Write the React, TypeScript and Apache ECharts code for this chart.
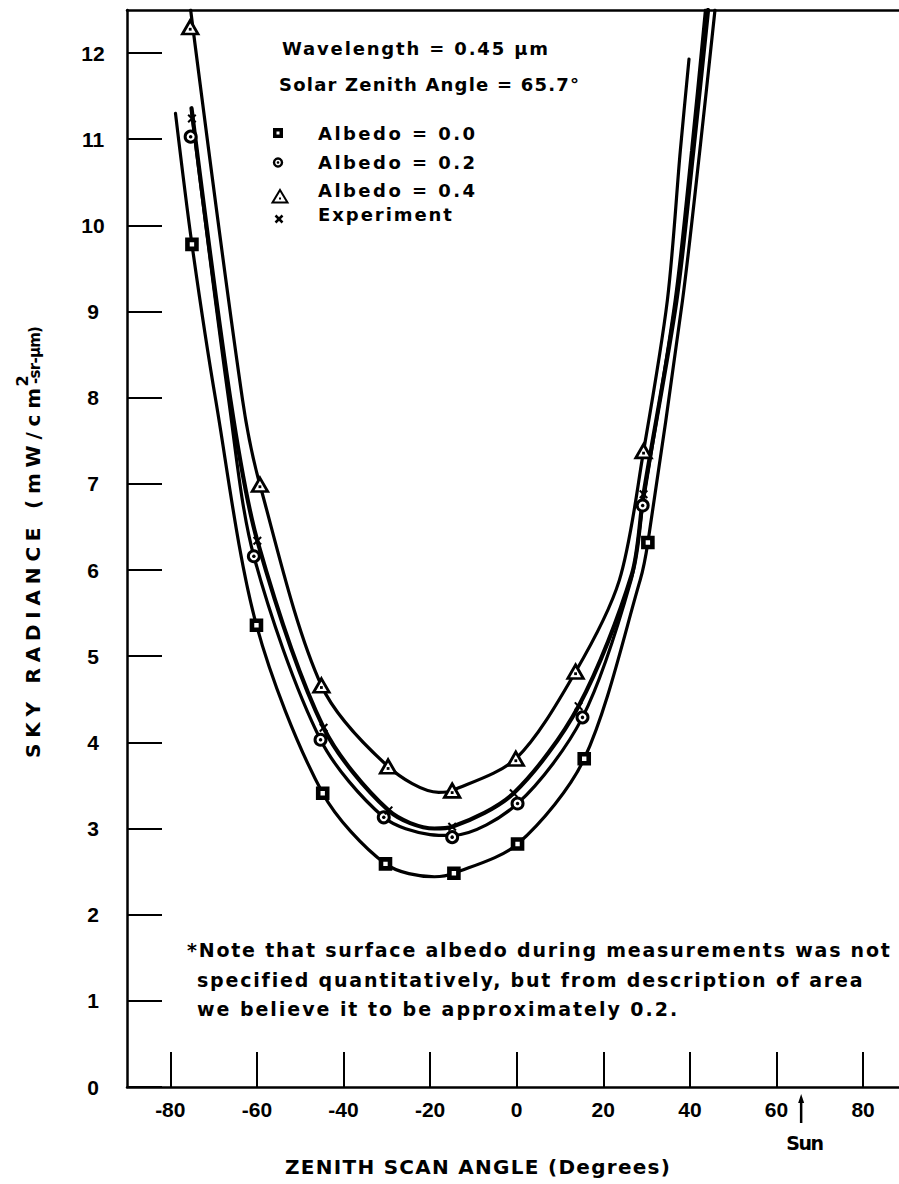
import React, { useEffect, useRef } from "react";
import * as echarts from "echarts";

// ---------- axes ----------
const X_MIN = -90;
const X_MAX = 88.3;
const Y_MIN = 0;
const Y_MAX = 12.5;
const X_TICKS = [-80, -60, -40, -20, 0, 20, 40, 60, 80];
const Y_TICKS = [0, 1, 2, 3, 4, 5, 6, 7, 8, 9, 10, 11, 12];
const SUN_ANGLE = 65.7;

// ---------- measured points (markers) ----------
const albedo00Points = [
  [-75.0, 9.78], [-60.1, 5.36], [-44.8, 3.41], [-30.3, 2.59],
  [-14.5, 2.48], [0.2, 2.82], [15.6, 3.81], [30.3, 6.32],
];
const albedo02Points = [
  [-75.3, 11.03], [-60.7, 6.16], [-45.3, 4.03], [-30.7, 3.13],
  [-14.9, 2.9], [0.2, 3.29], [15.2, 4.29], [29.1, 6.75],
];
const albedo04Points = [
  [-75.4, 12.3], [-59.3, 6.99], [-45.1, 4.66], [-29.7, 3.72],
  [-14.9, 3.44], [-0.2, 3.81], [13.6, 4.82], [29.3, 7.38],
];
const experimentPoints = [
  [-75.0, 11.24], [-59.9, 6.34], [-44.6, 4.17], [-29.6, 3.21],
  [-14.9, 3.02], [-0.7, 3.41], [14.3, 4.42], [29.3, 6.88],
];

// ---------- curves ----------
const albedo00Curve = [
  [-78.8, 11.3], [-75.0, 9.78], [-69.5, 7.97], [-60.1, 5.36], [-44.8, 3.41],
  [-30.3, 2.59], [-19.0, 2.44], [-14.5, 2.48], [0.2, 2.82], [15.6, 3.81],
  [28.5, 5.88], [30.3, 6.32], [38.3, 9.13], [42.3, 10.87], [45.8, 12.5],
];
const albedo02Curve = [
  [-75.1, 11.33], [-66.5, 7.97], [-60.7, 6.16], [-45.3, 4.03], [-30.7, 3.13],
  [-20.0, 2.93], [-14.9, 2.92], [0.2, 3.29], [15.2, 4.29], [26.4, 5.88],
  [29.1, 6.75], [36.6, 9.13], [40.4, 10.87], [43.6, 12.5],
];
const albedo04Curve = [
  [-75.3, 12.5], [-63.3, 7.97], [-59.3, 6.99], [-45.1, 4.66], [-29.7, 3.72],
  [-18.0, 3.42], [-14.9, 3.44], [-0.2, 3.81], [13.6, 4.82], [23.7, 5.88],
  [29.3, 7.38], [34.8, 9.13], [37.8, 10.87], [39.8, 11.93],
];
const experimentCurve = [
  [-75.1, 11.36], [-66.1, 7.97], [-59.9, 6.34], [-44.6, 4.17], [-29.6, 3.21],
  [-19.0, 3.0], [-14.9, 3.02], [-0.7, 3.41], [14.3, 4.42], [26.6, 5.95],
  [29.3, 6.88], [36.9, 9.13], [40.8, 10.87], [44.2, 12.5],
];

// ---------- texts ----------
const TITLE_LINES = ["Wavelength = 0.45 μm", "Solar Zenith Angle = 65.7°"];
const LEGEND_LABELS = ["Albedo = 0.0", "Albedo = 0.2", "Albedo = 0.4", "Experiment"];
const NOTE_LINES = [
  "*Note that surface albedo during measurements was not",
  "specified quantitatively, but from description of area",
  "we believe it to be approximately 0.2.",
];
const X_TITLE = "ZENITH SCAN ANGLE (Degrees)";
const Y_TITLE_MAIN = "SKY RADIANCE (mW/cm";
const Y_TITLE_SUP = "2";
const Y_TITLE_END = "-sr-μm)";
const SUN_LABEL = "Sun";

const FONT = '"DejaVu Sans", "Noto Sans", sans-serif';
const NUM_FONT = '"Liberation Sans", Arial, sans-serif';

// target rendered widths (px) for letter-spaced texts
const TEXT_FIT: Record<string, number> = {
  [TITLE_LINES[0]]: 266,
  [TITLE_LINES[1]]: 300,
  [LEGEND_LABELS[0]]: 157,
  [LEGEND_LABELS[1]]: 157,
  [LEGEND_LABELS[2]]: 157,
  [LEGEND_LABELS[3]]: 134,
  [NOTE_LINES[0]]: 703,
  [NOTE_LINES[1]]: 665,
  [NOTE_LINES[2]]: 480,
  [X_TITLE]: 385,
  [Y_TITLE_MAIN]: 370,
  [Y_TITLE_END]: 58,
  [SUN_LABEL]: 38,
};

function fitText(root: HTMLElement) {
  root.querySelectorAll("text").forEach((node) => {
    const t = node as SVGTextElement;
    const s = t.textContent || "";
    const target = TEXT_FIT[s];
    if (target === undefined || t.getAttribute("data-fit")) return;
    const n = Array.from(s).length;
    if (n < 2) return;
    t.setAttribute("letter-spacing", "0");
    const w = t.getComputedTextLength();
    const ls = (target - w) / (n - 1);
    t.setAttribute("letter-spacing", ls.toFixed(2));
    t.setAttribute("data-fit", "1");
  });
}

const X_PATH =
  "path://M0,1.6L1.6,0L5,3.4L8.4,0L10,1.6L6.6,5L10,8.4L8.4,10L5,6.6L1.6,10L0,8.4L3.4,5Z";

function txt(text: string, x: number, y: number, size: number) {
  return {
    type: "text",
    x,
    y,
    z: 20,
    style: {
      text,
      fontSize: size,
      fontFamily: FONT,
      fontWeight: "bold",
      fill: "#000",
      textAlign: "left",
      textVerticalAlign: "middle",
    },
  };
}

function lineSeries(name: string, data: number[][], width: number) {
  return {
    name,
    type: "line",
    data,
    smooth: 0.3,
    symbol: "none",
    showSymbol: false,
    silent: true,
    z: 2,
    lineStyle: { color: "#000", width, cap: "round", opacity: 1 },
  };
}

function buildOption() {
  const axisLine = { show: true, onZero: false, lineStyle: { color: "#000", width: 2.5 } };
  return {
    animation: false,
    backgroundColor: "#fff",
    grid: { left: 127, right: 0, top: 10, bottom: 97 },
    xAxis: [
      {
        type: "value",
        min: X_MIN,
        max: X_MAX,
        axisLine,
        splitLine: { show: false },
        axisTick: {
          show: true,
          inside: true,
          length: 35,
          customValues: X_TICKS,
          lineStyle: { color: "#000", width: 2 },
        },
        axisLabel: {
          customValues: X_TICKS,
          margin: 12,
          fontSize: 21,
          fontFamily: NUM_FONT,
          fontWeight: "bold",
          color: "#000",
        },
      },
      {
        type: "value",
        position: "top",
        min: X_MIN,
        max: X_MAX,
        axisLine,
        splitLine: { show: false },
        axisTick: { show: false },
        axisLabel: { show: false },
      },
    ],
    yAxis: {
      type: "value",
      min: Y_MIN,
      max: Y_MAX,
      axisLine,
      splitLine: { show: false },
      axisTick: {
        show: true,
        inside: true,
        length: 35,
        customValues: Y_TICKS,
        lineStyle: { color: "#000", width: 2 },
      },
      axisLabel: {
        customValues: Y_TICKS,
        margin: 34,
        align: "center",
        fontSize: 21,
        fontFamily: NUM_FONT,
        fontWeight: "bold",
        color: "#000",
      },
    },
    series: [
      lineSeries("Albedo = 0.0 curve", albedo00Curve, 3.2),
      lineSeries("Albedo = 0.2 curve", albedo02Curve, 3.2),
      lineSeries("Albedo = 0.4 curve", albedo04Curve, 3.2),
      lineSeries("Experiment curve", experimentCurve, 4.2),
      {
        name: "Albedo = 0.0",
        type: "scatter",
        data: albedo00Points,
        symbol: "rect",
        symbolSize: 9,
        z: 5,
        silent: true,
        itemStyle: { color: "#fff", borderColor: "#000", borderWidth: 4.6, opacity: 1 },
      },
      {
        name: "Albedo = 0.2",
        type: "scatter",
        data: albedo02Points,
        symbol: "circle",
        symbolSize: 11,
        z: 5,
        silent: true,
        itemStyle: { color: "#fff", borderColor: "#000", borderWidth: 3, opacity: 1 },
      },
      {
        name: "Albedo = 0.2 dot",
        type: "scatter",
        data: albedo02Points,
        symbol: "circle",
        symbolSize: 3.5,
        z: 6,
        silent: true,
        itemStyle: { color: "#000", opacity: 1 },
      },
      {
        name: "Albedo = 0.4",
        type: "scatter",
        data: albedo04Points,
        symbol: "triangle",
        symbolSize: [15.5, 13.5],
        z: 5,
        silent: true,
        itemStyle: { color: "#fff", borderColor: "#000", borderWidth: 2.8, opacity: 1 },
      },
      {
        name: "Albedo = 0.4 dot",
        type: "scatter",
        data: albedo04Points,
        symbol: "rect",
        symbolSize: 2.8,
        symbolOffset: [0, 2],
        z: 6,
        silent: true,
        itemStyle: { color: "#000", opacity: 1 },
      },
      {
        name: "Experiment",
        type: "scatter",
        data: experimentPoints,
        symbol: X_PATH,
        symbolSize: 9,
        z: 7,
        silent: true,
        itemStyle: { color: "#000", opacity: 1 },
      },
    ],
  };
}

function buildGraphic(sunX: number, axisY: number) {
  const els: any[] = [];
  // header
  els.push(txt(TITLE_LINES[0], 282, 48, 18));
  els.push(txt(TITLE_LINES[1], 279, 84, 18));
  // legend texts
  const rows = [133, 162, 190, 214];
  LEGEND_LABELS.forEach((l, i) => els.push(txt(l, 318, rows[i], 18)));
  // legend markers
  els.push({
    type: "rect",
    z: 20,
    shape: { x: 274.75, y: 129.75, width: 6.5, height: 6.5 },
    style: { fill: "#fff", stroke: "#000", lineWidth: 3.5 },
  });
  els.push({
    type: "circle",
    z: 20,
    shape: { cx: 278, cy: 162.5, r: 4 },
    style: { fill: "#fff", stroke: "#000", lineWidth: 2.4 },
  });
  els.push({
    type: "circle",
    z: 21,
    shape: { cx: 278, cy: 162.5, r: 1.3 },
    style: { fill: "#000" },
  });
  els.push({
    type: "polygon",
    z: 20,
    shape: { points: [[280, 190], [287.5, 202.5], [272.5, 202.5]] },
    style: { fill: "#fff", stroke: "#000", lineWidth: 2 },
  });
  els.push({
    type: "rect",
    z: 21,
    shape: { x: 279, y: 197.5, width: 2, height: 2 },
    style: { fill: "#000" },
  });
  els.push({
    type: "line",
    z: 20,
    shape: { x1: 275.5, y1: 215.5, x2: 282.5, y2: 222.5 },
    style: { stroke: "#000", lineWidth: 2.5 },
  });
  els.push({
    type: "line",
    z: 20,
    shape: { x1: 282.5, y1: 215.5, x2: 275.5, y2: 222.5 },
    style: { stroke: "#000", lineWidth: 2.5 },
  });
  // note
  els.push(txt(NOTE_LINES[0], 187, 950, 19));
  els.push(txt(NOTE_LINES[1], 197, 980, 19));
  els.push(txt(NOTE_LINES[2], 197, 1009, 19));
  // x title
  els.push(txt(X_TITLE, 285, 1167, 20));
  // sun arrow
  els.push({
    type: "line",
    z: 20,
    shape: { x1: sunX, y1: axisY + 13, x2: sunX, y2: axisY + 36 },
    style: { stroke: "#000", lineWidth: 2.5 },
  });
  els.push({
    type: "polygon",
    z: 20,
    shape: { points: [[sunX, axisY + 7], [sunX - 3, axisY + 16], [sunX + 3, axisY + 16]] },
    style: { fill: "#000" },
  });
  els.push(txt(SUN_LABEL, sunX - 15, axisY + 56, 19));
  // y title (rotated)
  els.push({
    type: "group",
    x: 33,
    y: 758,
    rotation: Math.PI / 2,
    children: [
      {
        type: "text",
        x: 0,
        y: 0,
        z: 20,
        style: {
          text: Y_TITLE_MAIN,
          fontSize: 20,
          fontFamily: FONT,
          fontWeight: "bold",
          fill: "#000",
          textAlign: "left",
          textVerticalAlign: "middle",
        },
      },
      {
        type: "text",
        x: 377,
        y: -11,
        z: 20,
        style: {
          text: Y_TITLE_SUP,
          fontSize: 16,
          fontFamily: FONT,
          fontWeight: "bold",
          fill: "#000",
          textAlign: "center",
          textVerticalAlign: "middle",
        },
      },
      {
        type: "text",
        x: 374,
        y: 2,
        z: 20,
        style: {
          text: Y_TITLE_END,
          fontSize: 15,
          fontFamily: FONT,
          fontWeight: "bold",
          fill: "#000",
          textAlign: "left",
          textVerticalAlign: "middle",
        },
      },
    ],
  });
  return els;
}

export default function App() {
  const ref = useRef<HTMLDivElement>(null);
  useEffect(() => {
    document.body.style.margin = "0";
    const el = ref.current;
    if (!el) return;
    const chart = echarts.init(el, null, { renderer: "svg" });
    chart.setOption(buildOption() as any);
    const sunX = chart.convertToPixel({ xAxisIndex: 0 }, SUN_ANGLE) as number;
    const axisY = chart.convertToPixel({ yAxisIndex: 0 }, 0) as number;
    chart.setOption({ graphic: { elements: buildGraphic(sunX, axisY) } } as any);
    fitText(el);
    const onFinished = () => fitText(el);
    chart.on("finished", onFinished);
    const raf = requestAnimationFrame(() => fitText(el));
    return () => {
      cancelAnimationFrame(raf);
      chart.off("finished", onFinished);
      chart.dispose();
    };
  }, []);
  return <div ref={ref} style={{ width: 899, height: 1184, background: "#fff" }} />;
}
